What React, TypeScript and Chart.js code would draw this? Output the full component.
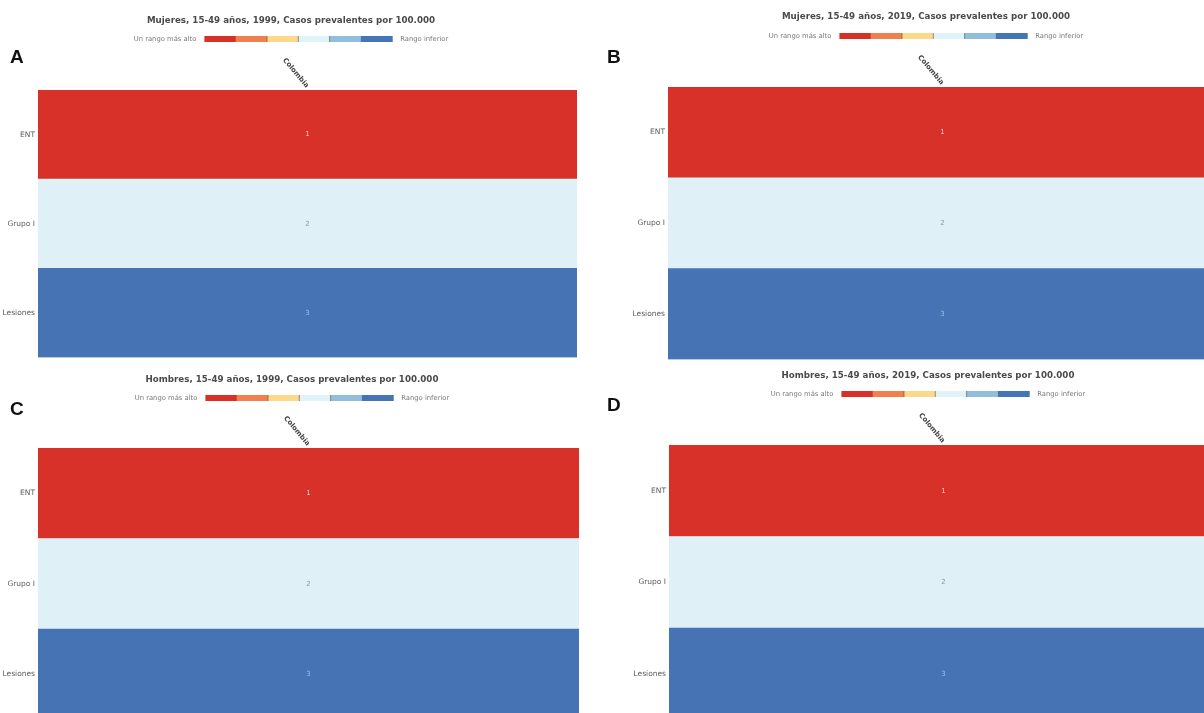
import React, { useEffect, useRef } from "react";
import { Chart, registerables } from "chart.js";

Chart.register(...registerables);

// ---- data ----
const causeGroups = ["ENT", "Grupo I", "Lesiones"];
const columnLabels = ["Colombia"];
const ranksMujeres1999 = [1, 2, 3];
const ranksMujeres2019 = [1, 2, 3];
const ranksHombres1999 = [1, 2, 3];
const ranksHombres2019 = [1, 2, 3];
const panelLetters = ["A", "B", "C", "D"];
const panelTitles = [
  "Mujeres, 15-49 años, 1999, Casos prevalentes por 100.000",
  "Mujeres, 15-49 años, 2019, Casos prevalentes por 100.000",
  "Hombres, 15-49 años, 1999, Casos prevalentes por 100.000",
  "Hombres, 15-49 años, 2019, Casos prevalentes por 100.000",
];
const legendHigh = "Un rango más alto";
const legendLow = "Rango inferior";
const legendPalette = ["#d73027", "#f0804f", "#fcd98a", "#e0f3f8", "#91bfdb", "#4575b4"];
// colour of a cell by rank
const rankColors = ["#d8312a", "#dff1f7", "#4673b3"];
const rankTextColors = ["rgba(255,220,220,0.95)", "#8a9aa2", "#9cc0ee"];

const FONT = "'DejaVu Sans', sans-serif";

const decorPlugin = {
  id: "decor",
  afterDatasetsDraw(chart: any) {
    const { ctx } = chart;
    const meta = chart.getDatasetMeta(0);
    const ranks: number[] = chart.data.datasets[0].ranks;
    ctx.save();
    ctx.font = `7px ${FONT}`;
    ctx.textAlign = "center";
    ctx.textBaseline = "middle";
    meta.data.forEach((el: any, i: number) => {
      const p = el.getCenterPoint();
      ctx.fillStyle = rankTextColors[ranks[i] - 1];
      ctx.fillText(String(ranks[i]), p.x, p.y);
    });
    ctx.restore();
  },
  afterDraw(chart: any, _args: any, opts: any) {
    const { ctx, chartArea } = chart;
    ctx.save();
    // panel letter
    ctx.fillStyle = "#111";
    ctx.font = `bold 19px 'Liberation Sans', Arial, sans-serif`;
    ctx.textAlign = "left";
    ctx.textBaseline = "alphabetic";
    ctx.fillText(opts.letter, opts.letterX, opts.letterY);

    // title
    const cx = opts.centerX;
    ctx.fillStyle = "#4a4a4a";
    ctx.font = `bold 8.7px ${FONT}`;
    ctx.textAlign = "center";
    ctx.textBaseline = "middle";
    ctx.fillText(opts.title, cx, opts.titleY);

    // legend row
    ctx.font = `6.8px ${FONT}`;
    const w1 = ctx.measureText(legendHigh).width;
    const w2 = ctx.measureText(legendLow).width;
    const segW = 31.3;
    const barW = segW * legendPalette.length;
    const gap = 8;
    const total = w1 + gap + barW + gap + w2;
    let x = cx - total / 2;
    const ly = opts.legendY;
    ctx.fillStyle = "#777";
    ctx.textAlign = "left";
    ctx.fillText(legendHigh, x, ly);
    x += w1 + gap;
    legendPalette.forEach((c, i) => {
      ctx.fillStyle = c;
      ctx.fillRect(x + i * segW, ly - 3, segW + 0.5, 6);
    });
    ctx.fillStyle = "rgba(90,80,60,0.6)";
    for (let i = 2; i <= 4; i++) ctx.fillRect(x + i * segW - 0.5, ly - 3, 1, 6);
    x += barW + gap;
    ctx.fillStyle = "#777";
    ctx.fillText(legendLow, x, ly);

    // column label (rotated)
    const xs = chart.scales.x;
    const colX = (xs.left + xs.right) / 2;
    ctx.translate(colX, chartArea.top - 3);
    ctx.rotate((50 * Math.PI) / 180);
    ctx.font = `bold 7px ${FONT}`;
    ctx.fillStyle = "#444";
    ctx.textAlign = "right";
    ctx.textBaseline = "middle";
    ctx.fillText(columnLabels[0], 0, 0);
    ctx.restore();
  },
};

type PanelProps = {
  ranks: number[];
  left: number;
  top: number;
  width: number;
  height: number;
  axisWidth: number;
  pad: { top: number; right: number; bottom: number };
  decor: any;
};

function Panel(props: PanelProps) {
  const ref = useRef<HTMLCanvasElement | null>(null);
  useEffect(() => {
    if (!ref.current) return;
    const chart = new Chart(ref.current, {
      type: "bar",
      data: {
        labels: causeGroups,
        datasets: [
          {
            data: props.ranks.map(() => 1),
            ranks: props.ranks,
            backgroundColor: props.ranks.map((r) => rankColors[r - 1]),
            borderWidth: 0,
            barPercentage: 1,
            categoryPercentage: 1,
          } as any,
        ],
      },
      options: {
        indexAxis: "y",
        responsive: false,
        animation: false,
        devicePixelRatio: 1,
        layout: { autoPadding: false, padding: { left: 0, ...props.pad } },
        plugins: {
          legend: { display: false },
          title: { display: false },
          tooltip: { enabled: false },
          decor: props.decor,
        } as any,
        scales: {
          x: { display: false, min: 0, max: 1 },
          y: {
            grid: { display: false, drawTicks: false },
            border: { display: false },
            ticks: {
              color: "#5a5a5a",
              font: { family: "DejaVu Sans", size: 7.5 },
              padding: 3,
            },
            afterFit: (scale: any) => {
              scale.width = props.axisWidth;
            },
          },
        },
      },
      plugins: [decorPlugin],
    });
    return () => chart.destroy();
  }, []);
  return (
    <canvas
      ref={ref}
      width={props.width}
      height={props.height}
      style={{ position: "absolute", left: props.left, top: props.top, width: props.width, height: props.height }}
    />
  );
}

export default function App() {
  return (
    <div
      style={{
        position: "fixed",
        left: 0,
        top: 0,
        width: 1204,
        height: 713,
        overflow: "hidden",
        background: "#fff",
      }}
    >
      <Panel
        ranks={ranksMujeres1999}
        left={0}
        top={0}
        width={600}
        height={365}
        axisWidth={38}
        pad={{ top: 90, right: 23, bottom: 2 }}
        decor={{ letter: panelLetters[0], letterX: 10, letterY: 63, title: panelTitles[0], centerX: 291, titleY: 21, legendY: 39 }}
      />
      <Panel
        ranks={ranksMujeres2019}
        left={600}
        top={0}
        width={620}
        height={367}
        axisWidth={68}
        pad={{ top: 87, right: 3, bottom: 2 }}
        decor={{ letter: panelLetters[1], letterX: 7, letterY: 63, title: panelTitles[1], centerX: 326, titleY: 17, legendY: 36 }}
      />
      <Panel
        ranks={ranksHombres1999}
        left={0}
        top={362}
        width={600}
        height={365}
        axisWidth={38}
        pad={{ top: 86, right: 21, bottom: 4 }}
        decor={{ letter: panelLetters[2], letterX: 10, letterY: 53, title: panelTitles[2], centerX: 292, titleY: 18, legendY: 36 }}
      />
      <Panel
        ranks={ranksHombres2019}
        left={600}
        top={362}
        width={620}
        height={365}
        axisWidth={69}
        pad={{ top: 83, right: 2, bottom: 4 }}
        decor={{ letter: panelLetters[3], letterX: 7, letterY: 49, title: panelTitles[3], centerX: 328, titleY: 14, legendY: 32 }}
      />
    </div>
  );
}
